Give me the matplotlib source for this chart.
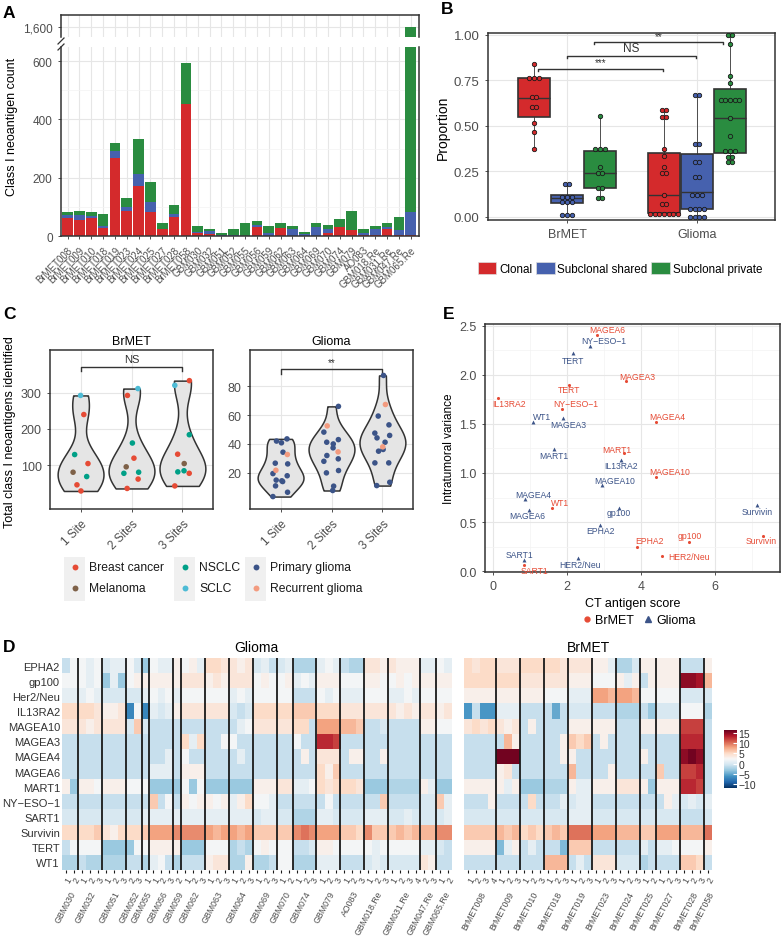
import matplotlib
matplotlib.use('Agg')
import matplotlib.pyplot as plt
import matplotlib.transforms as mtransforms
from matplotlib.patches import Patch, Rectangle
from matplotlib.lines import Line2D
import numpy as np

plt.rcParams['font.family'] = ['Liberation Sans', 'DejaVu Sans']

W, H = 781, 937

# ---------------- Panel A data ----------------
samples_a = ['BrMET008', 'BrMET009', 'BrMET010', 'BrMET018', 'BrMET019', 'BrMET023',
             'BrMET024', 'BrMET025', 'BrMET027', 'BrMET028', 'BrMET058', 'GBM030',
             'GBM032', 'GBM051', 'GBM052', 'GBM055', 'GBM056', 'GBM059', 'GBM062',
             'GBM063', 'GBM064', 'GBM069', 'GBM070', 'GBM074', 'GBM079', 'AO083',
             'GBM018.Re', 'GBM031.Re', 'GBM047.Re', 'GBM065.Re']
clonal_a = [61, 55, 61, 27, 267, 86, 171, 84, 24, 64, 452, 12, 7, 1, 0, 0, 31, 0, 27,
            0, 0, 0, 10, 32, 20, 5, 2, 25, 5, 5]
shared_a = [12, 18, 8, 8, 24, 13, 42, 34, 1, 11, 2, 3, 9, 1, 3, 0, 6, 12, 0, 23, 6, 30,
            15, 0, 2, 5, 23, 6, 16, 77]
private_a = [10, 13, 13, 42, 28, 32, 120, 66, 19, 30, 139, 19, 9, 7, 22, 44, 15, 23, 18,
             11, 7, 16, 14, 25, 64, 15, 11, 14, 45, 1518]

# ---------------- Panel B data ----------------
b_groups = ['BrMET', 'Glioma']
b_classes = ['Clonal', 'Subclonal shared', 'Subclonal private']
# (whisker low, q1, median, q3, whisker high)
b_brmet_stats = [(0.37, 0.55, 0.655, 0.765, 0.84),
                 (0.01, 0.073, 0.105, 0.122, 0.18),
                 (0.10, 0.16, 0.238, 0.36, 0.553)]
b_glioma_stats = [(0.015, 0.018, 0.12, 0.351, 0.587),
                  (0.0, 0.042, 0.136, 0.345, 0.671),
                  (0.30, 0.351, 0.54, 0.70, 1.0)]
brmet_clonal_pts = [0.84, 0.765, 0.765, 0.765, 0.658, 0.658, 0.604, 0.604, 0.513, 0.467, 0.373]
brmet_shared_pts = [0.18, 0.18, 0.11, 0.11, 0.11, 0.08, 0.08, 0.08, 0.01, 0.01, 0.01]
brmet_private_pts = [0.553, 0.373, 0.373, 0.373, 0.276, 0.238, 0.238, 0.16, 0.16, 0.104, 0.104]
glioma_clonal_pts = [0.587, 0.587, 0.547, 0.547, 0.373, 0.336, 0.273, 0.242, 0.242, 0.12,
                     0.069, 0.069, 0.015, 0.015, 0.015, 0.015, 0.015, 0.015, 0.015]
glioma_shared_pts = [0.671, 0.671, 0.40, 0.40, 0.30, 0.30, 0.22, 0.22, 0.12, 0.12, 0.12,
                     0.04, 0.04, 0.04, 0.04, 0.0, 0.0, 0.0, 0.0]
glioma_private_pts = [1.0, 1.0, 0.949, 0.776, 0.736, 0.642, 0.642, 0.642, 0.642, 0.642,
                      0.54, 0.445, 0.36, 0.36, 0.36, 0.33, 0.33, 0.30, 0.30]
b_sig = [('***', 0.775, 1.74, 0.813), ('NS', 1.0, 1.99, 0.884), ('**', 1.21, 2.2, 0.96)]

# ---------------- Panel C data ----------------
c_sites = ['1 Site', '2 Sites', '3 Sites']
brmet_c_vals = [[293, 240, 129, 104, 80, 68, 45, 28],
                [312, 293, 161, 119, 95, 80, 77, 61, 35],
                [334, 321, 184, 130, 104, 84, 81, 77, 42]]
brmet_c_types = [['SCLC', 'Breast cancer', 'NSCLC', 'Breast cancer', 'Melanoma', 'NSCLC',
                  'Breast cancer', 'Breast cancer'],
                 ['SCLC', 'Breast cancer', 'NSCLC', 'Breast cancer', 'Melanoma', 'NSCLC',
                  'NSCLC', 'Breast cancer', 'Breast cancer'],
                 ['Breast cancer', 'SCLC', 'NSCLC', 'Breast cancer', 'Melanoma', 'NSCLC',
                  'NSCLC', 'Breast cancer', 'Breast cancer']]
glioma_c_vals = [[43.5, 42, 40.8, 34.3, 26.7, 26.2, 19.5, 18, 15, 14.5, 14, 11, 6.6, 3.6, 32.7, 21.8],
                 [66, 48.2, 43, 41.2, 40, 37.3, 32, 29.7, 28, 21.6, 20, 10.8, 7.8, 52.5, 34.5],
                 [87.4, 59.3, 53.2, 47.5, 45.9, 44.2, 41.2, 36.2, 35, 26.9, 26.9, 13.5, 11.2, 67.3, 38]]
glioma_c_recurrent = [2, 2, 2]   # last n points of each site are recurrent glioma
c_types = ['Breast cancer', 'Melanoma', 'NSCLC', 'SCLC', 'Primary glioma', 'Recurrent glioma']

# ---------------- Panel E data ----------------
e_brmet_antigens = ['MAGEA6', 'MAGEA3', 'TERT', 'IL13RA2', 'NY\u2212ESO\u22121', 'MAGEA4', 'MART1',
                    'MAGEA10', 'WT1', 'EPHA2', 'gp100', 'HER2/Neu', 'SART1', 'Survivin']
e_brmet_score = [2.80, 3.59, 2.05, 0.13, 1.87, 4.40, 3.54, 4.41, 1.59, 3.90, 5.31, 4.57, 0.84, 7.30]
e_brmet_var = [2.41, 1.94, 1.90, 1.76, 1.65, 1.52, 1.20, 0.96, 0.64, 0.25, 0.30, 0.15, 0.06, 0.36]
e_glioma_antigens = ['NY\u2212ESO\u22121', 'TERT', 'WT1', 'MAGEA3', 'MART1', 'IL13RA2', 'MAGEA10',
                     'MAGEA4', 'MAGEA6', 'gp100', 'Survivin', 'EPHA2', 'HER2/Neu', 'SART1']
e_glioma_score = [2.62, 2.15, 1.09, 1.90, 1.65, 3.46, 2.95, 0.87, 0.98, 3.41, 7.15, 2.90, 2.29, 0.84]
e_glioma_var = [2.30, 2.22, 1.52, 1.56, 1.24, 1.13, 0.88, 0.73, 0.62, 0.64, 0.67, 0.47, 0.13, 0.11]

# ---------------- Panel D data ----------------
genes = ['EPHA2', 'gp100', 'Her2/Neu', 'IL13RA2', 'MAGEA10', 'MAGEA3', 'MAGEA4', 'MAGEA6',
         'MART1', 'NY\u2212ESO\u22121', 'SART1', 'Survivin', 'TERT', 'WT1']
glioma_groups = ['GBM030', 'GBM032', 'GBM051', 'GBM052', 'GBM055', 'GBM056', 'GBM059',
                 'GBM062', 'GBM063', 'GBM064', 'GBM069', 'GBM070', 'GBM074', 'GBM079',
                 'AO083', 'GBM018.Re', 'GBM031.Re', 'GBM047.Re', 'GBM065.Re']
glioma_sizes = [2, 3, 3, 2, 1, 3, 1, 3, 3, 3, 3, 2, 3, 3, 3, 3, 4, 2, 2]
glioma_sites = [1, 2, 1, 2, 3, 1, 2, 3, 2, 3, 1, 1, 2, 3, 2, 1, 2, 3, 1, 2, 3, 1, 2, 3,
                1, 2, 3, 1, 2, 1, 2, 3, 1, 2, 3, 1, 2, 3, 1, 2, 3, 1, 2, 3, 4, 2, 3, 1, 2]
glioma_heat = [
    [-1, 2, 2, 1, 2, 0, 1, 1, 2, 0, -3, 2, 1, 1, 3, 2, 3, 1, 5, 5, 4, 4, 3, 4, 0, 1, -1, 0, 1,
     -2, -2, -2, 1, 2, 1, -1, -2, -2, 4, 4, 3, 4, 3, 3, 3, 1, 1, 2, 1],
    [2, 2, 2, 1, 2, -3, 1, -3, 2, 3, 3, 3, 3, 3, 3, 4, 4, 4, 3, 4, 3, 4, 4, 4, 2, 3, 2, 2, 3,
     1, 2, 1, 3, 3, 3, 2, 2, 2, 3, 3, 2, 2, 3, 2, 3, 3, 3, 3, 3],
    [1, 1, 1, 2, 1, 0, 0, 0, 0, 0, 1, 2, 1, 2, 1, 2, 2, 2, 2, 2, 2, 1, 2, 1, 2, 2, 2, 2, 2,
     -1, -1, -1, 2, 1, 2, 1, 1, 1, 2, 2, 2, 1, 1, 2, 1, 2, 2, 2, 2],
    [5, 5, 5, 5, 4, 3, 3, 4, -7, 2, -7, 1, 0, 1, 3, 4, 4, 4, 4, 4, 4, 0, -1, 0, 5, 5, 5, 5, 5,
     6, 6, 6, 5, 5, 5, 4, 4, 4, 4, 4, 4, 4, 3, 4, 3, 4, 4, 3, 4],
    [4, 4, 4, 3, 4, 4, 4, 4, 0, 6, 0, -1, -1, -1, -1, -1, -1, -1, -1, -1, -1, -1, 1, 2, 4, 4, 4,
     4, 4, 5, 5, -1, 8, 8, 8, 7, 7, 6, -1, -1, 0, -1, -1, -1, -1, 3, 3, 2, 2],
    [-1, -1, -1, -1, -1, -1, -1, -1, -1, -1, -1, -1, -1, -1, -1, 5, 1, 5, -1, -1, 2, 2, -1, -1,
     -1, -1, -1, -1, -1, 2, -1, -1, 13, 13, 12, -1, -1, -1, -1, -1, -1, -1, -1, -1, -1, -1, -1, -1, -1],
    [-1, -1, -1, -1, -1, -1, -1, -1, -1, -1, -1, -1, -1, 1, -1, 2, -1, -1, -1, -1, -1, -1, 1, -1,
     -1, -1, -1, -1, -1, -1, 3, -1, 4, 4, 4, -1, 3, 3, -1, -1, 3, -1, -1, -1, -1, -1, -1, -1, -1],
    [-1, -1, -1, -1, -1, -1, -1, -1, -1, -1, -1, 1, 1, 1, -1, 3, 3, 3, -1, -1, -1, -1, -1, -1,
     -1, -1, -1, -1, -1, -1, -1, -1, 5, 3, 6, -1, -1, -1, -1, -1, -1, -1, -1, -1, -1, -1, -1, -1, -1],
    [3, -3, 3, 3, 2, 3, 3, 3, 2, 2, 2, -3, -3, -3, -3, 2, -3, 2, -3, -3, -3, -3, -3, -3, 3, 3, 3,
     4, 4, 1, 1, 2, 5, 4, 5, 5, 5, 4, -3, -3, -3, -2, -2, -2, -2, 3, 1, -3, -3],
    [-1, -1, -1, -1, -1, -1, -1, -1, -1, -1, -1, 6, -1, 2, -1, 3, 2, 3, 3, 2, 3, 1, 3, 5, 2, 2, 1,
     -1, -1, -1, -1, -1, -1, 2, -1, -1, -1, -1, -1, -1, 6, -1, -1, -1, -1, 0, 0, 6, 1],
    [0, 0, 0, 0, 0, 0, 0, 0, 0, 0, 1, 1, 1, 1, 1, 1, 1, 1, 1, 1, 1, 1, 1, 1, 0, 1, 1, 0, 0,
     -2, -2, -2, 1, 1, 0, 0, 0, 0, 1, 1, 1, 0, 0, 1, 0, 0, 0, 0, 1],
    [5, 5, 5, 5, 6, 4, 3, 5, 5, 5, 6, 8, 8, 8, 9, 9, 9, 9, 8, 7, 8, 8, 7, 8, 6, 6, 6, 6, 6,
     9, 10, 9, 8, 8, 8, 6, 6, 5, 9, 6, 6, 6, 7, 6, 7, 7, 7, 9, 9],
    [-1, 2, 2, 2, 2, -3, -3, -3, -3, 2, 2, 3, 3, 3, 3, -3, -3, -3, 2, 2, 2, -2, -1, -2, 2, 3, 2,
     2, 2, -1, -1, 0, 3, 3, 2, 2, 2, 2, 2, 1, 2, 2, 2, 2, 2, 1, 1, 0, -1],
    [-2, -2, -1, -2, -2, -2, -2, -2, -1, -1, -2, 1, 2, -1, -2, -1, -1, -1, 3, 4, 4, -2, -2, 3,
     -2, -2, -1, 2, 2, -2, -2, -2, 1, 1, 1, -1, -1, -1, 0, 1, 0, 0, 0, 0, 0, 4, 3, -1, -1],
]
brmet_groups = ['BrMET008', 'BrMET009', 'BrMET010', 'BrMET018', 'BrMET019', 'BrMET023',
                'BrMET024', 'BrMET025', 'BrMET027', 'BrMET028', 'BrMET058']
brmet_sizes = [4, 3, 3, 3, 3, 3, 3, 2, 3, 3, 1]
brmet_sites = [1, 2, 3, 4, 1, 2, 3, 1, 2, 3, 1, 2, 3, 1, 2, 3, 1, 2, 3, 1, 2, 3, 1, 2,
               1, 2, 3, 1, 2, 3, 2]
brmet_heat = [
    [5, 4, 5, 5, 4, 4, 4, 5, 5, 5, 5, 5, 4, 4, 4, 4, 3, 3, 1, -2, -2, 0, 3, 3, 3, 3, 3, -1, -1, -1, 3],
    [5, 5, 5, 5, 5, 5, 5, 4, 4, 4, 4, 4, 4, 3, 3, 3, 2, 2, 2, 3, 1, 3, -1, 3, 3, 3, 3, 15, 15, 14, 7],
    [3, 3, 3, 3, 3, 3, 3, 3, 3, 3, 2, 2, 2, 1, 1, 1, 8, 8, 7, 8, 8, 7, 2, 2, 2, 2, 2, 0, 0, 0, 0],
    [-6, -1, -6, -6, 1, 1, 1, -1, -1, -1, -1, -5, -1, 0, 0, 0, -1, -1, -1, -2, -2, -2, -1, -3, 0, 0, 0,
     2, 2, 2, -2],
    [4, 5, 4, 5, 4, 3, 4, -1, 3, -1, -1, -1, -1, 3, 3, 3, 3, 3, 3, -1, -1, -1, 3, 3, 3, 3, 3, 12, 12, 12, -1],
    [-1, -1, -1, -1, -1, 7, 3, -1, -1, -1, -1, -1, 3, 6, 5, 6, -1, 3, -1, -1, -1, -1, -1, -1, -1, -1, -1,
     13, 13, 13, -1],
    [-1, -1, -1, -1, 16, 16, 16, -1, -1, -1, -1, -1, 3, 3, -1, -1, -1, -1, -1, -1, -1, -1, 3, -1, -1, -1, -1,
     15, 16, 15, -1],
    [-1, -1, -1, -1, 3, 4, -1, -1, -1, -1, -1, -1, -1, 7, -1, -1, -1, -1, 3, -1, -1, -1, -1, -1, 6, -1, -1,
     12, 12, 13, -1],
    [3, 3, 3, 3, 3, 1, 3, -3, -3, -3, -2, -2, -2, 3, 1, 1, 3, 3, 3, 4, 4, 4, 3, -3, 3, 3, 3, 13, 13, 12, -1],
    [-1, -1, -1, 3, -1, -1, -1, -1, 5, -1, -1, -1, 1, 0, 1, 1, -1, -1, -1, -1, -1, -1, -1, -1, -1, 3, 1,
     0, 1, 0, 1],
    [0, 0, 0, 0, 0, 0, 0, 0, 0, 0, 0, 0, 0, 1, 1, 1, 0, 0, 0, 0, 0, 0, 0, 0, 0, 0, 0, -1, -1, -1, 0],
    [6, 6, 6, 6, 7, 6, 7, 5, 6, 5, 6, 7, 6, 10, 10, 10, 8, 8, 8, 7, 7, 7, 6, 6, 8, 8, 8, 7, 7, 7, 10],
    [3, 3, 3, 3, -4, 1, 3, -1, 1, -1, -1, -1, -4, 6, 6, 6, -1, -1, -1, -1, -1, -1, 1, -1, 1, 1, 2,
     2, 2, 2, 3],
    [-1, -1, -1, -1, -1, -1, -1, -1, -1, -1, 7, 7, 7, -1, 1, -1, 4, 4, 4, 0, 0, 0, -2, -1, -1, -1, -1,
     6, 6, 5, -1],
]

# ---------------- colours ----------------
CLONAL, SHARED, PRIVATE = '#D42A2C', '#4661AE', '#2A8C40'
b_colors = [CLONAL, SHARED, PRIVATE]
type_colors = {'Breast cancer': '#E64B35', 'Melanoma': '#7E6148', 'NSCLC': '#00A087',
               'SCLC': '#4DBBD5', 'Primary glioma': '#3C5488', 'Recurrent glioma': '#F39B7F'}
E_BRMET, E_GLIOMA = '#E64B35', '#3C5488'
DARK = '#333333'
TICK = '#4D4D4D'


def box(x0, y0, x1, y1):
    return [x0 / W, 1 - y1 / H, (x1 - x0) / W, (y1 - y0) / H]


def gg(ax, minor=True):
    for s in ax.spines.values():
        s.set_color(DARK)
        s.set_linewidth(1.1)
    ax.grid(True, which='major', color='#E6E6E6', lw=0.8)
    if minor:
        ax.grid(True, which='minor', color='#F3F3F3', lw=0.5)
    ax.set_axisbelow(True)
    ax.tick_params(which='major', color=DARK, labelcolor=TICK, length=2.5, width=0.6)
    ax.tick_params(which='minor', length=0)


fig = plt.figure(figsize=(7.81, 9.37), dpi=100)

# ================= Panel A =================
axA_top = fig.add_axes(box(61, 16, 419, 38))
axA = fig.add_axes(box(61, 48, 419, 237))
xa = np.arange(len(samples_a))
bottom_priv = np.add(clonal_a, shared_a)
for ax in (axA_top, axA):
    gg(ax)
    ax.bar(xa, clonal_a, 0.9, color=CLONAL, lw=0)
    ax.bar(xa, shared_a, 0.9, bottom=clonal_a, color=SHARED, lw=0)
    ax.bar(xa, private_a, 0.9, bottom=bottom_priv, color=PRIVATE, lw=0)
    ax.set_xlim(-0.55, 29.7)
    ax.set_xticks(xa)
axA_top.set_ylim(1566, 1638)
axA_top.set_yticks([1600])
axA_top.set_yticklabels(['1,600'], fontsize=8.5)
axA_top.tick_params(axis='x', bottom=False, labelbottom=False)
axA_top.spines['bottom'].set_visible(False)
axA.set_ylim(0, 648)
axA.set_yticks([0, 200, 400, 600])
axA.set_yticks([100, 300, 500], minor=True)
axA.tick_params(axis='y', labelsize=8.5)
axA.spines['top'].set_visible(False)
axA.set_xticklabels(samples_a, rotation=45, ha='right', rotation_mode='anchor', fontsize=7)
fig.text(12 / W, 1 - 127 / H, 'Class I neoantigen count', rotation=90, ha='center', va='center',
         fontsize=9)

# ================= Panel B =================
axB = fig.add_axes(box(488, 34, 775, 221))
gg(axB)
dodge = 0.254
for gi, stats_list in enumerate([b_brmet_stats, b_glioma_stats]):
    for ci, st in enumerate(stats_list):
        pos = gi + 1 + (ci - 1) * dodge
        d = dict(whislo=st[0], q1=st[1], med=st[2], q3=st[3], whishi=st[4], fliers=[])
        axB.bxp([d], positions=[pos], widths=0.245, patch_artist=True, showfliers=False,
                showcaps=False,
                boxprops=dict(facecolor=b_colors[ci], edgecolor=DARK, lw=1.2),
                medianprops=dict(color=DARK, lw=1.0),
                whiskerprops=dict(color=DARK, lw=0.6), manage_ticks=False)

b_points = [[brmet_clonal_pts, brmet_shared_pts, brmet_private_pts],
            [glioma_clonal_pts, glioma_shared_pts, glioma_private_pts]]


def spread(vals, center, step):
    vals = np.asarray(vals, float)
    xs = np.empty_like(vals)
    for v in np.unique(vals):
        idx = np.where(vals == v)[0]
        xs[idx] = center + (np.arange(len(idx)) - (len(idx) - 1) / 2) * step
    return xs


for gi in range(2):
    for ci in range(3):
        pos = gi + 1 + (ci - 1) * dodge
        pts = b_points[gi][ci]
        axB.scatter(spread(pts, pos, 0.036), pts, s=10, color=b_colors[ci], edgecolor='#1a1a1a',
                    lw=0.6, zorder=4)
for lab, x0, x1, y in b_sig:
    axB.plot([x0, x0, x1, x1], [y - 0.013, y, y, y - 0.013], color=DARK, lw=1.0)
    axB.text((x0 + x1) / 2, y + 0.008, lab, ha='center', va='bottom', fontsize=7 if '*' in lab else 8.5,
             color=DARK)
axB.set_xlim(0.392, 2.6)
axB.set_ylim(-0.018, 1.01)
axB.set_xticks([1, 2])
axB.set_xticklabels(b_groups, fontsize=9)
axB.set_yticks([0, 0.25, 0.5, 0.75, 1.0])
axB.set_yticklabels(['0.00', '0.25', '0.50', '0.75', '1.00'], fontsize=9.5)
axB.set_ylabel('Proportion', fontsize=10, labelpad=3)
axB.legend(handles=[Patch(facecolor=c, edgecolor='#dddddd', lw=0.5, label=l)
                    for c, l in zip(b_colors, b_classes)],
           loc='upper center', bbox_to_anchor=(0.46, -0.2), ncol=3, frameon=False,
           fontsize=8.4, handlelength=1.6, handleheight=1.2, handletextpad=0.25,
           columnspacing=0.3, borderaxespad=0)

# ================= Panel C =================
axC1 = fig.add_axes(box(50, 351, 213, 510))
axC2 = fig.add_axes(box(250, 351, 413, 510))


def jitter(n, k):
    return 0.15 * np.sin(np.arange(n) * 2.7 + k)


for ax, vals_list, title in [(axC1, brmet_c_vals, 'BrMET'), (axC2, glioma_c_vals, 'Glioma')]:
    gg(ax)
    vp = ax.violinplot(vals_list, positions=[1, 2, 3], widths=0.9, showextrema=False,
                       bw_method=0.45)
    for body in vp['bodies']:
        body.set_facecolor('#E5E5E5')
        body.set_edgecolor(DARK)
        body.set_linewidth(1.1)
        body.set_alpha(1)
    ax.set_xlim(0.4, 3.6)
    ax.set_xticks([1, 2, 3])
    ax.set_xticklabels(c_sites, rotation=45, ha='right', rotation_mode='anchor', fontsize=8.5)
    ax.set_title(title, fontsize=9, pad=4)
    ax.tick_params(axis='y', labelsize=9)

for si, vals in enumerate(brmet_c_vals):
    cols = [type_colors[t] for t in brmet_c_types[si]]
    axC1.scatter(si + 1 + jitter(len(vals), si), vals, s=16, c=cols, lw=0, zorder=4)
for si, vals in enumerate(glioma_c_vals):
    n = len(vals)
    nrec = glioma_c_recurrent[si]
    cols = [type_colors['Primary glioma']] * (n - nrec) + [type_colors['Recurrent glioma']] * nrec
    axC2.scatter(si + 1 + jitter(n, si + 1), vals, s=16, c=cols, lw=0, zorder=4)

axC1.set_ylim(-22, 419)
axC1.set_yticks([100, 200, 300])
axC1.plot([1, 1, 3, 3], [362, 372, 372, 362], color=DARK, lw=1.0)
axC1.text(2, 380, 'NS', ha='center', va='bottom', fontsize=8, color=DARK)
axC2.set_ylim(-5, 105)
axC2.set_yticks([20, 40, 60, 80])
axC2.plot([1, 1, 3, 3], [88.6, 91.6, 91.6, 88.6], color=DARK, lw=1.0)
axC2.text(2, 93.5, '**', ha='center', va='bottom', fontsize=7, color=DARK)
fig.text(10 / W, 1 - 432 / H, 'Total class I neoantigens identified', rotation=90, ha='center',
         va='center', fontsize=9)

# ================= Panel E =================
axE = fig.add_axes(box(485, 325, 780, 573))
gg(axE)
axE.scatter(e_brmet_score, e_brmet_var, s=5, marker='o', color=E_BRMET, lw=0, zorder=3)
axE.scatter(e_glioma_score, e_glioma_var, s=8, marker='^', color=E_GLIOMA, lw=0, zorder=3)
brmet_lab_off = [(0.29, 0.054), (0.32, 0.048), (0, -0.05), (0.29, -0.05), (0.36, 0.058),
                 (0.32, 0.058), (-0.2, 0.044), (0.36, 0.054), (0.21, 0.058), (0.34, 0.058),
                 (0, 0.06), (0.73, 0), (0.28, -0.05), (-0.05, -0.05)]
glioma_lab_off = [(0.36, 0.054), (0, -0.075), (0.23, 0.054), (0.12, -0.065), (0, -0.06),
                  (0, -0.054), (0.34, 0.048), (0.22, 0.054), (-0.07, -0.058), (0, -0.045),
                  (0, -0.058), (0, -0.06), (0.06, -0.06), (-0.13, 0.06)]
for names, xs, ys, offs, col in [(e_brmet_antigens, e_brmet_score, e_brmet_var, brmet_lab_off, E_BRMET),
                                 (e_glioma_antigens, e_glioma_score, e_glioma_var, glioma_lab_off, E_GLIOMA)]:
    for nm, x, y, (dx, dy) in zip(names, xs, ys, offs):
        axE.text(x + dx, y + dy, nm, color=col, fontsize=6.2, ha='center', va='center')
axE.set_xlim(-0.22, 7.76)
axE.set_ylim(-0.01, 2.52)
axE.set_xticks([0, 2, 4, 6])
axE.set_xticks([1, 3, 5, 7], minor=True)
axE.set_yticks([0, 0.5, 1.0, 1.5, 2.0, 2.5])
axE.set_yticks([0.25, 0.75, 1.25, 1.75, 2.25], minor=True)
axE.set_yticklabels(['0.0', '0.5', '1.0', '1.5', '2.0', '2.5'])
axE.tick_params(labelsize=9)
axE.set_xlabel('CT antigen score', fontsize=9, labelpad=3)
axE.set_ylabel('Intratumoral variance', fontsize=8.5, labelpad=3)
axE.legend(handles=[Line2D([], [], marker='o', ls='', color=E_BRMET, markersize=3.5, label='BrMET'),
                    Line2D([], [], marker='^', ls='', color=E_GLIOMA, markersize=4.5, label='Glioma')],
           loc='upper center', bbox_to_anchor=(0.52, -0.15), ncol=2, frameon=False, fontsize=9,
           handletextpad=0.2, columnspacing=0.6, handlelength=1.0, borderaxespad=0)

# ================= Panel D =================
axDg = fig.add_axes(box(62, 659, 451.7, 871))
axDb = fig.add_axes(box(464.3, 659, 711.7, 871))
cmap = plt.get_cmap('RdBu_r')
for ax, data, groups, sizes, sites, title in [
        (axDg, glioma_heat, glioma_groups, glioma_sizes, glioma_sites, 'Glioma'),
        (axDb, brmet_heat, brmet_groups, brmet_sizes, brmet_sites, 'BrMET')]:
    arr = np.array(data, float)
    ncol = arr.shape[1]
    im = ax.imshow(arr, aspect='auto', cmap=cmap, vmin=-12, vmax=16.5, interpolation='nearest',
                   extent=(0, ncol, len(genes), 0))
    for b in np.cumsum(sizes)[:-1]:
        ax.axvline(b, color='#1a1a1a', lw=1.3)
    for s in ax.spines.values():
        s.set_visible(False)
    ax.set_xticks(np.arange(ncol) + 0.5)
    ax.set_xticklabels([str(s) for s in sites], rotation=60, ha='right', rotation_mode='anchor',
                       fontsize=6.5, color=TICK)
    ax.tick_params(axis='x', length=2, width=0.8, color='#1a1a1a', pad=1.5)
    ax.set_title(title, fontsize=10, pad=5)
    trans = mtransforms.blended_transform_factory(ax.transData, ax.transAxes)
    starts = np.concatenate([[0], np.cumsum(sizes)[:-1]])
    for name, st, sz in zip(groups, starts, sizes):
        ax.text(st + sz / 2, -0.09, name, transform=trans, rotation=62, ha='right', va='top',
                rotation_mode='anchor', fontsize=6.3, color=TICK)
axDg.set_yticks(np.arange(len(genes)) + 0.5)
axDg.set_yticklabels(genes, fontsize=8, color=DARK)
axDg.tick_params(axis='y', length=0, pad=1.5)
axDb.set_yticks([])

cax = fig.add_axes(box(724, 731, 737, 789))
cb = fig.colorbar(im, cax=cax, ticks=[-10, -5, 0, 5, 10, 15])
cb.outline.set_visible(False)
cax.tick_params(labelsize=7.5, length=3, color='white', width=0.8, direction='in', pad=1,
                labelcolor=DARK)
cax.set_yticklabels(['\u221210', '\u22125', '0', '5', '10', '15'])

# ================= overlay: letters, legend C, axis break =================
ov = fig.add_axes([0, 0, 1, 1])
ov.set_xlim(0, W)
ov.set_ylim(H, 0)
ov.axis('off')
ov.patch.set_alpha(0)
for lab, x, y in [('A', 3, 13), ('B', 441, 10), ('C', 3, 315), ('E', 443, 315), ('D', 3, 648)]:
    ov.text(x, y, lab, fontsize=12.5, fontweight='bold', ha='left', va='center')
for yy in (42, 48):
    ov.plot([58, 64], [yy + 3, yy - 3], color=DARK, lw=0.9)

legend_cols = [(64, ['Breast cancer', 'Melanoma']), (174, ['NSCLC', 'SCLC']),
               (245, ['Primary glioma', 'Recurrent glioma'])]
for x0, labels in legend_cols:
    ov.add_patch(Rectangle((x0, 558), 21, 44, facecolor='#F0F0F0', edgecolor='none'))
    for k, lab in enumerate(labels):
        yy = 568 + 21 * k
        ov.scatter([x0 + 10.5], [yy], s=18, color=type_colors[lab], lw=0)
        ov.text(x0 + 25, yy, lab, fontsize=8.7, va='center', ha='left', color='#1a1a1a')

fig.savefig('out.png', dpi=100)
